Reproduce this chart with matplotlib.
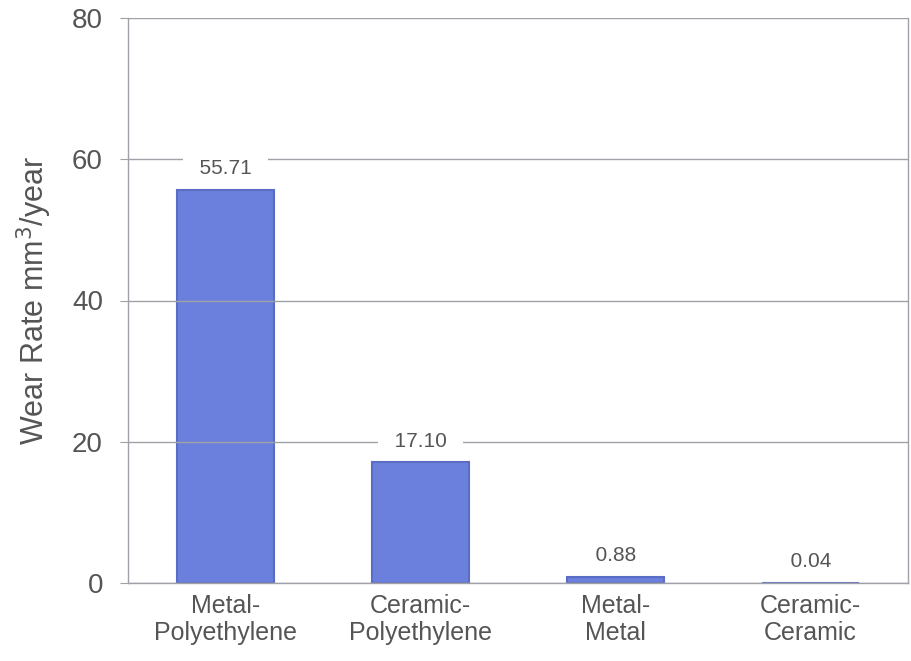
import matplotlib.pyplot as plt

plt.rcParams['font.family'] = ['Liberation Sans', 'DejaVu Sans']

# Datos
categories = ['Metal-\nPolyethylene', 'Ceramic-\nPolyethylene', 'Metal-\nMetal', 'Ceramic-\nCeramic']
wear_rate = [55.71, 17.10, 0.88, 0.04]
value_labels = ['55.71', '17.10', '0.88', '0.04']
y_ticks = [0, 20, 40, 60, 80]

text_color = '#555555'
grid_color = '#a0a0a8'

fig = plt.figure(figsize=(9.12, 6.61), dpi=100)
ax = fig.add_axes([128 / 912, 78 / 661, 780 / 912, 565 / 661])

x = range(len(categories))
ax.bar(x, wear_rate, width=0.5, color='#6b80dc', edgecolor='#5a6cc4', linewidth=1.5, zorder=1)

# Rejilla encima de las barras
ax.set_ylim(0, 80)
ax.set_xlim(-0.5, len(categories) - 0.5)
ax.set_yticks(y_ticks)
ax.yaxis.grid(True, color=grid_color, linewidth=1, zorder=2)
ax.set_axisbelow(False)

# Etiquetas de valores con fondo blanco
for xi, v, lab in zip(x, wear_rate, value_labels):
    ax.annotate(f'  {lab}  ', (xi, v), xytext=(0, 15), textcoords='offset points',
                ha='center', va='center', fontsize=15, color=text_color,
                bbox=dict(boxstyle='square,pad=0.25', fc='white', ec='none'), zorder=5)

ax.set_xticks(list(x))
ax.set_xticklabels(categories, fontsize=18, color=text_color, linespacing=1.15)
ax.tick_params(axis='x', length=0, pad=8)
ax.tick_params(axis='y', length=6, color=grid_color, labelsize=20, labelcolor=text_color, pad=12)

ax.set_ylabel('Wear Rate mm$^3$/year', fontsize=22, color=text_color, labelpad=13)

for side in ['left', 'bottom', 'right']:
    ax.spines[side].set_color(grid_color)
    ax.spines[side].set_linewidth(1)
ax.spines['top'].set_visible(False)

fig.savefig('out.png', dpi=100)
